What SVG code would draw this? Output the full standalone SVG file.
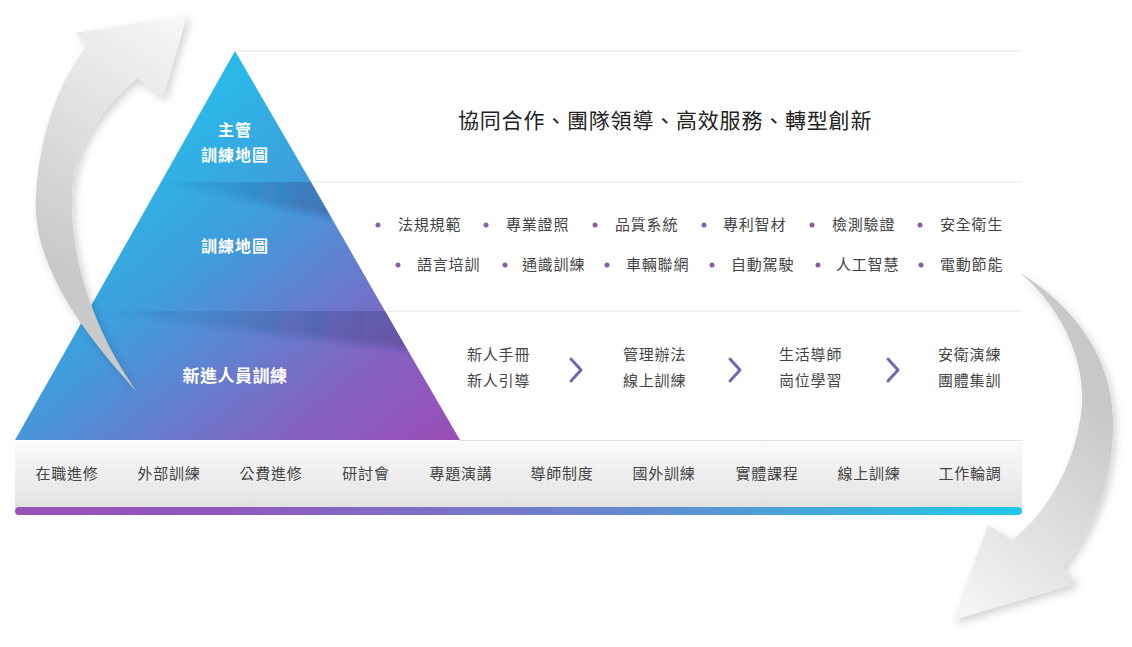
<svg xmlns="http://www.w3.org/2000/svg" width="1132" height="647" viewBox="0 0 1132 647">
<defs>
<style>
text{font-family:"Noto Sans CJK TC","Noto Sans CJK SC",sans-serif}
.lbl{fill:#fff;font-weight:bold;text-anchor:middle}
.it{font-size:15px;fill:#444;letter-spacing:0.8px}
.bt{font-size:15px;fill:#444;letter-spacing:0.8px;text-anchor:middle}
.ln{stroke:#e4e4e4;stroke-width:1;fill:none}
.dot{fill:#8a5ab0}
.chev{fill:none;stroke:#7563b3;stroke-width:3;stroke-linecap:round;stroke-linejoin:round}
</style>
<linearGradient id="pg" gradientUnits="userSpaceOnUse" x1="235" y1="70" x2="500" y2="394">
<stop offset="0" stop-color="#2ab9e9"/>
<stop offset="0.3" stop-color="#3f9ddd"/>
<stop offset="0.5" stop-color="#5f83d0"/>
<stop offset="0.75" stop-color="#8462c2"/>
<stop offset="1" stop-color="#9a4fb8"/>
</linearGradient>
<linearGradient id="sh" x1="0" y1="0" x2="1" y2="0">
<stop offset="0" stop-color="#1a2a60" stop-opacity="0"/>
<stop offset="1" stop-color="#1a2a60" stop-opacity="0.3"/>
</linearGradient>
<linearGradient id="barbg" x1="0" y1="0" x2="0" y2="1">
<stop offset="0" stop-color="#fbfbfb"/>
<stop offset="1" stop-color="#e2e2e2"/>
</linearGradient>
<linearGradient id="cbar" x1="0" y1="0" x2="1" y2="0">
<stop offset="0" stop-color="#9a52b8"/>
<stop offset="0.18" stop-color="#9256ba"/>
<stop offset="0.55" stop-color="#6f80cc"/>
<stop offset="1" stop-color="#20c8ea"/>
</linearGradient>
<linearGradient id="la" gradientUnits="userSpaceOnUse" x1="35" y1="250" x2="185" y2="20">
<stop offset="0" stop-color="#c9c9c9"/>
<stop offset="1" stop-color="#f7f7f7"/>
</linearGradient>
<linearGradient id="ra" gradientUnits="userSpaceOnUse" x1="1112" y1="420" x2="960" y2="610">
<stop offset="0" stop-color="#c8c8c8"/>
<stop offset="1" stop-color="#f5f5f5"/>
</linearGradient>
<filter id="ds" x="-20%" y="-20%" width="140%" height="140%">
<feDropShadow dx="3" dy="4" stdDeviation="4" flood-color="#000" flood-opacity="0.18"/>
</filter>
<filter id="soft" x="-20%" y="-50%" width="140%" height="200%">
<feGaussianBlur stdDeviation="3"/>
</filter>
<clipPath id="cMid"><polygon points="161,182 311,182 385,311 88,311"/></clipPath>
<clipPath id="cBase"><polygon points="88,311 385,311 460,440 15,440"/></clipPath>
</defs>

<g id="guides">
<line class="ln" x1="235" y1="51" x2="1022" y2="51"/>
<line class="ln" x1="311" y1="182" x2="1022" y2="182"/>
<line class="ln" x1="385" y1="311" x2="1022" y2="311"/>
</g>

<g id="connectors-back">
<path filter="url(#ds)" fill="url(#ra)" d="M1020,273 C1065,300 1112,350 1113,420 C1114,470 1100,520 1062,568 L1077,583 L953,620 L988,525 L1012,540 C1045,515 1072,470 1080,420 C1090,370 1065,310 1020,273 Z"/>
</g>

<g id="tier-top">
<polygon fill="url(#pg)" points="235,51 311,182 161,182"/>
<text class="lbl" x="235" y="136" font-size="16" letter-spacing="1">主管</text>
<text class="lbl" x="235" y="161" font-size="16" letter-spacing="1">訓練地圖</text>
</g>
<g id="tier-mid">
<polygon fill="url(#pg)" points="161,182 311,182 385,311 88,311"/>
<g clip-path="url(#cMid)"><polygon fill="url(#sh)" filter="url(#soft)" points="150,176 340,176 335,218 161,182"/></g>
<text class="lbl" x="235" y="252" font-size="16" letter-spacing="1">訓練地圖</text>
</g>
<g id="tier-base">
<polygon fill="url(#pg)" points="88,311 385,311 460,440 15,440"/>
<g clip-path="url(#cBase)"><polygon fill="url(#sh)" filter="url(#soft)" points="80,305 420,305 412,350 88,311"/></g>
<text class="lbl" x="235" y="382" font-size="17" letter-spacing="0.5">新進人員訓練</text>
</g>

<g id="goal">
<text x="458" y="128" font-size="21" fill="#222" letter-spacing="0.8">協同合作、團隊領導、高效服務、轉型創新</text>
</g>

<g id="topics">
<circle class="dot" cx="378" cy="225" r="2.5"/><text class="it" x="398" y="230">法規規範</text>
<circle class="dot" cx="486" cy="225" r="2.5"/><text class="it" x="506" y="230">專業證照</text>
<circle class="dot" cx="595" cy="225" r="2.5"/><text class="it" x="615" y="230">品質系統</text>
<circle class="dot" cx="704" cy="225" r="2.5"/><text class="it" x="723" y="230">專利智材</text>
<circle class="dot" cx="812" cy="225" r="2.5"/><text class="it" x="832" y="230">檢測驗證</text>
<circle class="dot" cx="920" cy="225" r="2.5"/><text class="it" x="940" y="230">安全衛生</text>
<circle class="dot" cx="398" cy="265" r="2.5"/><text class="it" x="417" y="270">語言培訓</text>
<circle class="dot" cx="505" cy="265" r="2.5"/><text class="it" x="522" y="270">通識訓練</text>
<circle class="dot" cx="607" cy="265" r="2.5"/><text class="it" x="626" y="270">車輛聯網</text>
<circle class="dot" cx="712" cy="265" r="2.5"/><text class="it" x="731" y="270">自動駕駛</text>
<circle class="dot" cx="818" cy="265" r="2.5"/><text class="it" x="836" y="270">人工智慧</text>
<circle class="dot" cx="921" cy="265" r="2.5"/><text class="it" x="940" y="270">電動節能</text>
</g>

<g id="step1"><text class="it" x="467" y="360">新人手冊</text><text class="it" x="467" y="386">新人引導</text></g>
<g id="step2"><text class="it" x="623" y="360">管理辦法</text><text class="it" x="623" y="386">線上訓練</text></g>
<g id="step3"><text class="it" x="779" y="360">生活導師</text><text class="it" x="779" y="386">崗位學習</text></g>
<g id="step4"><text class="it" x="938" y="360">安衛演練</text><text class="it" x="938" y="386">團體集訓</text></g>

<g id="methods">
<rect x="15" y="440" width="1007" height="68" fill="url(#barbg)"/>
<line x1="460" y1="440.5" x2="1022" y2="440.5" stroke="#e2e2e2"/>
<text class="bt" x="67" y="479">在職進修</text>
<text class="bt" x="169" y="479">外部訓練</text>
<text class="bt" x="271" y="479">公費進修</text>
<text class="bt" x="366" y="479">研討會</text>
<text class="bt" x="461" y="479">專題演講</text>
<text class="bt" x="562" y="479">導師制度</text>
<text class="bt" x="664" y="479">國外訓練</text>
<text class="bt" x="767" y="479">實體課程</text>
<text class="bt" x="869" y="479">線上訓練</text>
<text class="bt" x="970" y="479">工作輪調</text>
<rect x="15" y="507" width="1007" height="8" rx="4" fill="url(#cbar)"/>
</g>

<g id="connectors">
<polyline class="chev" points="571,359 581,370 571,381"/>
<polyline class="chev" points="730,359 740,370 730,381"/>
<polyline class="chev" points="888,359 898,370 888,381"/>
<path filter="url(#ds)" fill="url(#la)" d="M137,392 C95,345 30,270 36,195 C40,130 60,80 88,44 L75,33 L187,15 L163,97 L137,78 C102,108 70,148 72,205 C72,270 100,340 137,392 Z"/>
</g>
</svg>
